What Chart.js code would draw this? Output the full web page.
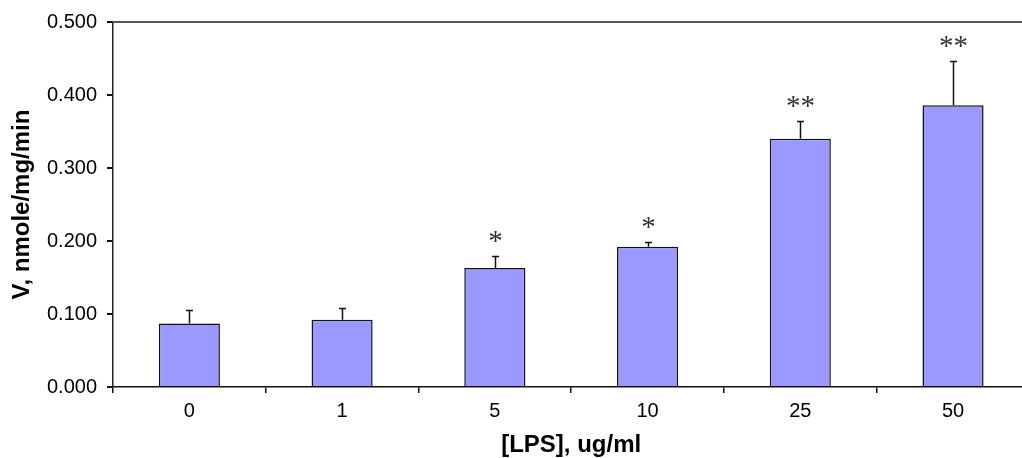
<!DOCTYPE html>
<html>
<head>
<meta charset="utf-8">
<script src="https://cdn.jsdelivr.net/npm/chart.js@4.4.0/dist/chart.umd.min.js"></script>
<style>
html,body{margin:0;padding:0;background:#fff;overflow:hidden;}
#wrap{width:1040px;height:458px;}
</style>
</head>
<body>
<div id="wrap"><canvas id="c" width="1040" height="458"></canvas></div>
<script>
const categories = ['0', '1', '5', '10', '25', '50'];
const values = [0.087, 0.092, 0.163, 0.192, 0.340, 0.386];
const errors = [0.018, 0.016, 0.016, 0.006, 0.025, 0.060];
const marks = ['', '', '*', '*', '**', '**'];
const yTicks = [0, 0.1, 0.2, 0.3, 0.4, 0.5];

const errorPlugin = {
  id: 'errorBars',
  afterDatasetsDraw(chart) {
    const {ctx, scales: {x, y}} = chart;
    ctx.save();
    ctx.strokeStyle = '#111';
    ctx.lineWidth = 1.5;
    ctx.fillStyle = '#333';
    values.forEach((v, i) => {
      const px = Math.round(x.getPixelForValue(i)) + 0.5;
      const yTop = y.getPixelForValue(v);
      const yErr = Math.round(y.getPixelForValue(v + errors[i])) + 0.5;
      ctx.beginPath();
      ctx.moveTo(px, yTop);
      ctx.lineTo(px, yErr);
      ctx.moveTo(px - 3.5, yErr);
      ctx.lineTo(px + 3.5, yErr);
      ctx.stroke();
      if (marks[i]) {
        ctx.font = '29px "Liberation Serif", "Times New Roman", serif';
        ctx.textAlign = 'center';
        ctx.textBaseline = 'alphabetic';
        ctx.fillText(marks[i], px, yErr - 7);
      }
    });
    ctx.restore();
  }
};

new Chart(document.getElementById('c'), {
  type: 'bar',
  data: {
    labels: categories,
    datasets: [{
      data: values,
      backgroundColor: '#9999FF',
      borderColor: '#111',
      borderWidth: 1.5,
      barPercentage: 0.4,
      categoryPercentage: 1.0
    }]
  },
  options: {
    responsive: false,
    animation: false,
    layout: {padding: {top: 20, right: 10.6, left: 0, bottom: 0}},
    plugins: {legend: {display: false}, tooltip: {enabled: false}},
    scales: {
      x: {
        afterFit: s => { s.height = 71; },
        border: {color: '#111', width: 1.5},
        grid: {drawOnChartArea: false, drawTicks: true, tickLength: 6, tickColor: '#111', lineWidth: 1.5, offset: true},
        ticks: {color: '#000', font: {family: 'Liberation Sans, Arial, sans-serif', size: 20}, padding: 6.5},
        title: {display: true, text: '[LPS], ug/ml', color: '#000',
          font: {family: 'Liberation Sans, Arial, sans-serif', size: 24, weight: 'bold', lineHeight: 1},
          padding: {top: 0, bottom: 1}}
      },
      y: {
        min: 0, max: 0.5,
        afterFit: s => { s.width = 113; },
        afterBuildTicks: s => { s.ticks = yTicks.map(v => ({value: v})); },
        border: {color: '#222', width: 1.5},
        grid: {
          color: c => (c.tick && c.tick.value === 0.5) ? '#555' : 'rgba(0,0,0,0)',
          lineWidth: 2,
          tickColor: '#111',
          tickLength: 6,
          drawTicks: true
        },
        ticks: {color: '#000', font: {family: 'Liberation Sans, Arial, sans-serif', size: 20}, padding: 10,
          callback: v => Number(v).toFixed(3)},
        title: {display: true, text: 'V, nmole/mg/min', color: '#000',
          font: {family: 'Liberation Sans, Arial, sans-serif', size: 24, weight: 'bold', lineHeight: 1},
          padding: {top: 10, bottom: 0}}
      }
    }
  },
  plugins: [errorPlugin]
});
</script>
</body>
</html>
